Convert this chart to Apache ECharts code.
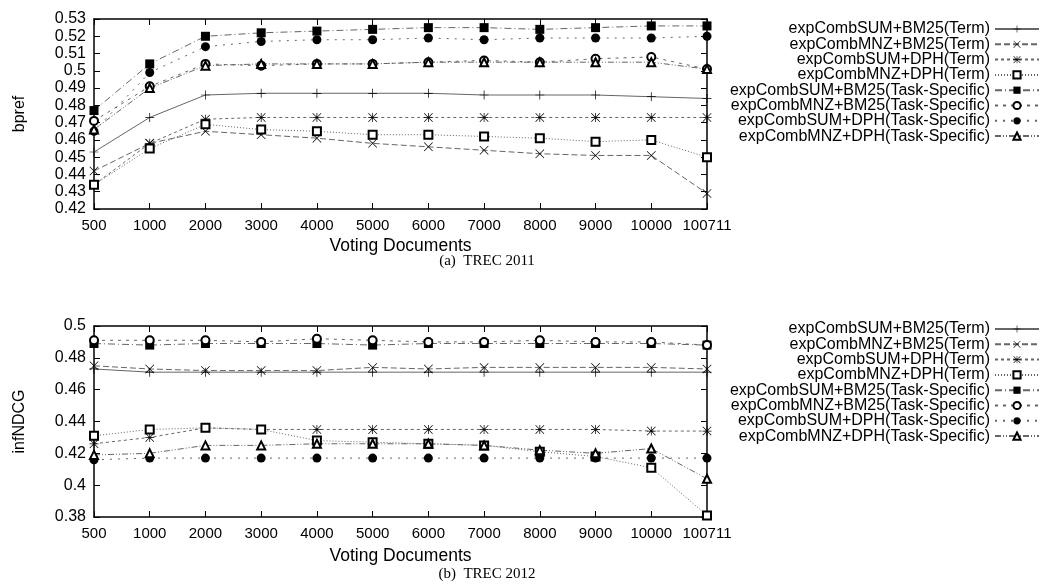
<!DOCTYPE html>
<html>
<head>
<meta charset="utf-8">
<script src="https://cdn.jsdelivr.net/npm/echarts@6/dist/echarts.min.js"></script>
<style>html,body{margin:0;padding:0;background:#fff;}#c{width:1041px;height:584px;}</style>
</head>
<body>
<div id="c"></div>
<script>
const categories = ['500','1000','2000','3000','4000','5000','6000','7000','8000','9000','10000','100711'];
const seriesNames = ['expCombSUM+BM25(Term)','expCombMNZ+BM25(Term)','expCombSUM+DPH(Term)','expCombMNZ+DPH(Term)',
  'expCombSUM+BM25(Task-Specific)','expCombMNZ+BM25(Task-Specific)','expCombSUM+DPH(Task-Specific)','expCombMNZ+DPH(Task-Specific)'];

// TREC 2011 (bpref)
const sumBm25Term2011 = [0.453,0.473,0.486,0.487,0.487,0.487,0.487,0.486,0.486,0.486,0.485,0.484];
const mnzBm25Term2011 = [0.442,0.458,0.465,0.463,0.461,0.458,0.456,0.454,0.452,0.451,0.451,0.429];
const sumDphTerm2011  = [0.434,0.458,0.472,0.473,0.473,0.473,0.473,0.473,0.473,0.473,0.473,0.473];
const mnzDphTerm2011  = [0.434,0.455,0.469,0.466,0.465,0.463,0.463,0.462,0.461,0.459,0.460,0.450];
const sumBm25Task2011 = [0.477,0.504,0.520,0.522,0.523,0.524,0.525,0.525,0.524,0.525,0.526,0.526];
const mnzBm25Task2011 = [0.471,0.491,0.504,0.503,0.504,0.504,0.505,0.506,0.505,0.507,0.508,0.501];
const sumDphTask2011  = [0.465,0.499,0.514,0.517,0.518,0.518,0.519,0.518,0.519,0.519,0.519,0.520];
const mnzDphTask2011  = [0.466,0.490,0.503,0.504,0.504,0.504,0.505,0.505,0.505,0.505,0.505,0.501];

// TREC 2012 (infNDCG)
const sumBm25Term2012 = [0.473,0.471,0.471,0.471,0.471,0.471,0.471,0.471,0.471,0.471,0.471,0.471];
const mnzBm25Term2012 = [0.475,0.473,0.472,0.472,0.472,0.474,0.473,0.474,0.474,0.474,0.474,0.473];
const sumDphTerm2012  = [0.426,0.430,0.436,0.435,0.435,0.435,0.435,0.435,0.435,0.435,0.434,0.434];
const mnzDphTerm2012  = [0.431,0.435,0.436,0.435,0.428,0.427,0.426,0.425,0.421,0.418,0.411,0.381];
const sumBm25Task2012 = [0.489,0.488,0.489,0.489,0.489,0.488,0.489,0.489,0.489,0.489,0.489,0.488];
const mnzBm25Task2012 = [0.491,0.491,0.491,0.490,0.492,0.491,0.490,0.490,0.491,0.490,0.490,0.488];
const sumDphTask2012  = [0.416,0.417,0.417,0.417,0.417,0.417,0.417,0.417,0.417,0.417,0.417,0.417];
const mnzDphTask2012  = [0.419,0.420,0.425,0.425,0.426,0.426,0.426,0.425,0.422,0.420,0.423,0.404];

const yTicks2011 = {min:0.42, max:0.53, interval:0.01};
const yTicks2012 = {min:0.38, max:0.5, interval:0.02};

const data2011 = [sumBm25Term2011,mnzBm25Term2011,sumDphTerm2011,mnzDphTerm2011,sumBm25Task2011,mnzBm25Task2011,sumDphTask2011,mnzDphTask2011];
const data2012 = [sumBm25Term2012,mnzBm25Term2012,sumDphTerm2012,mnzDphTerm2012,sumBm25Task2012,mnzBm25Task2012,sumDphTask2012,mnzDphTask2012];

const PLUS = 'path://M4.6,0H5.4V10H4.6ZM0,4.6H10V5.4H0Z';
const CROSS = 'path://M0,0.55L0.55,0L10,9.45L9.45,10ZM9.45,0L10,0.55L0.55,10L0,9.45Z';
const STAR = 'path://M4.6,0H5.4V10H4.6ZM0,4.6H10V5.4H0ZM0,0.55L0.55,0L10,9.45L9.45,10ZM9.45,0L10,0.55L0.55,10L0,9.45Z';
const styles = [
  {symbol:PLUS, size:9, dash:'solid', bw:0},
  {symbol:CROSS, size:9, dash:[6,3], bw:0},
  {symbol:STAR, size:9, dash:[3,3], bw:0},
  {symbol:'emptyRect', size:8, dash:[1,2], bw:0.8},
  {symbol:'rect', size:9, dash:[7,3,1,3], bw:0},
  {symbol:'emptyCircle', size:8, dash:[3,5], bw:0.8},
  {symbol:'circle', size:9, dash:[2,6], bw:0},
  {symbol:'emptyTriangle', size:8, dash:[6,2,1,2,1,2], bw:0.8}
];

const FONT = 'Liberation Sans';
const axisCommon = {
  axisLine:{show:true, lineStyle:{color:'#000', width:1.5}},
  splitLine:{show:false}
};
function xAxes(gi, nameGap){
  return [
    Object.assign({type:'category', gridIndex:gi, data:categories, boundaryGap:false, position:'bottom',
      name:'Voting Documents', nameLocation:'middle', nameGap:nameGap,
      nameTextStyle:{fontFamily:FONT, fontSize:17.5, color:'#000'},
      axisTick:{show:true, inside:true, length:6, lineStyle:{color:'#000'}},
      axisLabel:{interval:0, margin:9, fontFamily:FONT, fontSize:15, color:'#000'}}, axisCommon),
    Object.assign({type:'category', gridIndex:gi, data:categories, boundaryGap:false, position:'top',
      axisTick:{show:true, inside:true, length:6, lineStyle:{color:'#000'}},
      axisLabel:{show:false}}, axisCommon)
  ];
}
function yAxes(gi, ticks, name){
  return [
    Object.assign({type:'value', gridIndex:gi, position:'left', min:ticks.min, max:ticks.max, interval:ticks.interval,
      name:name, nameLocation:'middle', nameRotate:90, nameGap:66,
      nameTextStyle:{fontFamily:FONT, fontSize:16, color:'#000'},
      axisTick:{show:true, inside:true, length:6, lineStyle:{color:'#000'}},
      axisLabel:{margin:8, fontFamily:FONT, fontSize:16, color:'#000',
        formatter:v=>String(parseFloat(v.toFixed(2)))}}, axisCommon),
    Object.assign({type:'value', gridIndex:gi, position:'right', min:ticks.min, max:ticks.max, interval:ticks.interval,
      axisTick:{show:true, inside:true, length:6, lineStyle:{color:'#000'}},
      axisLabel:{show:false}}, axisCommon)
  ];
}

const series = [];
[data2011, data2012].forEach((set, gi) => {
  set.forEach((vals, i) => {
    const st = styles[i];
    series.push({
      name: seriesNames[i], type:'line', xAxisIndex: gi*2, yAxisIndex: gi*2,
      data: vals, symbol: st.symbol, symbolSize: st.size, showSymbol:true,
      itemStyle:{color:'#000', borderColor:'#000', borderWidth:st.bw},
      lineStyle:{color:'#666', width:1, type: st.dash},
      emphasis:{disabled:true}, animation:false
    });
  });
});

function legend(top){
  return {
    orient:'vertical', right:1, top:top, padding:0, align:'right',
    itemWidth:44, itemHeight:9, itemGap:-0.7,
    data: seriesNames,
    textStyle:{fontFamily:FONT, fontSize:16, color:'#000'},
    selectedMode:false
  };
}

const chart = echarts.init(document.getElementById('c'), null, {renderer:'canvas'});
chart.setOption({
  backgroundColor:'#fff',
  animation:false,
  title:[
    {text:'(a)  TREC 2011', left:487, top:254, textAlign:'center', textStyle:{fontFamily:'Liberation Serif', fontSize:15, fontWeight:'normal', color:'#000'}, padding:0},
    {text:'(b)  TREC 2012', left:487, top:567, textAlign:'center', textStyle:{fontFamily:'Liberation Serif', fontSize:15, fontWeight:'normal', color:'#000'}, padding:0}
  ],
  grid:[
    {left:94, top:19, width:613, height:190},
    {left:94, top:326, width:613, height:191}
  ],
  legend:[legend(21), legend(321)],
  xAxis:[...xAxes(0, 28), ...xAxes(1, 30)],
  yAxis:[...yAxes(0, yTicks2011, 'bpref'), ...yAxes(1, yTicks2012, 'infNDCG')],
  series: series
});
</script>
</body>
</html>
